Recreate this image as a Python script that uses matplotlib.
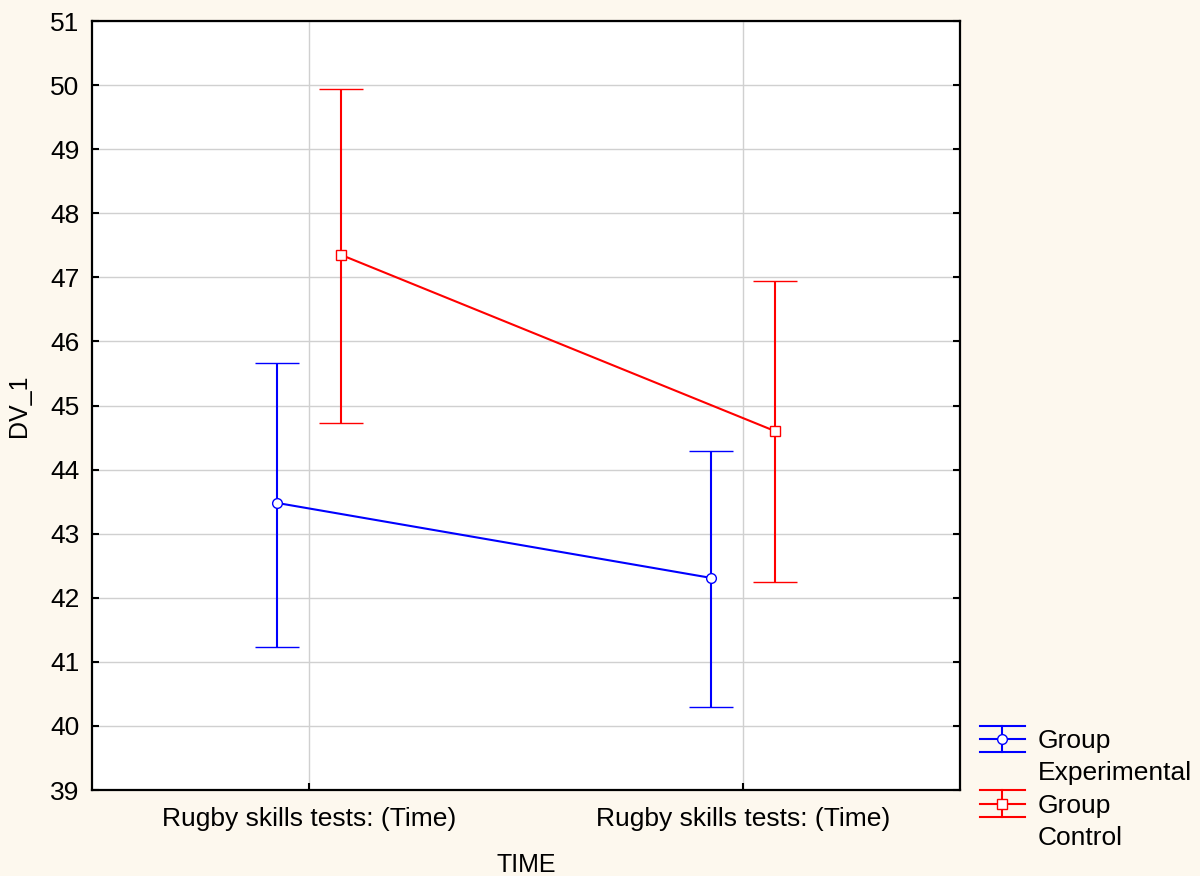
import matplotlib
matplotlib.use("Agg")
import matplotlib.pyplot as plt
import numpy as np
from matplotlib.legend_handler import HandlerBase
from matplotlib.lines import Line2D

plt.rcParams['font.family'] = ['Liberation Sans', 'DejaVu Sans']

categories = ["Rugby skills tests: (Time)", "Rugby skills tests: (Time)"]
exp_mean = [43.48, 42.31]
exp_upper = [45.66, 44.29]
exp_lower = [41.23, 40.30]
ctl_mean = [47.35, 44.60]
ctl_upper = [49.94, 46.94]
ctl_lower = [44.73, 42.25]
series_labels = ["Group", "Experimental", "Group", "Control"]
yticks = list(range(39, 52))

BG = '#FDF8EE'
fig = plt.figure(figsize=(12, 8.76), dpi=100, facecolor=BG)
ax = fig.add_axes([92/1200, 86/876, 868/1200, 769/876])
ax.set_facecolor('white')

x = np.arange(len(categories))
off = 0.074

def draw(xs, mean, lo, hi, color, marker):
    mean = np.array(mean); lo = np.array(lo); hi = np.array(hi)
    ax.errorbar(xs, mean, yerr=[mean - lo, hi - mean], color=color, lw=1.5,
                elinewidth=1.5, capsize=16, capthick=1.5, marker=marker,
                markersize=7, markerfacecolor='white', markeredgecolor=color,
                markeredgewidth=1.0, zorder=3)

draw(x - off, exp_mean, exp_lower, exp_upper, '#0000FF', 'o')
draw(x + off, ctl_mean, ctl_lower, ctl_upper, '#FF0000', 's')

ax.set_xlim(-0.5, 1.5)
ax.set_ylim(39, 51)
ax.set_yticks(yticks)
ax.set_xticks(x)
ax.set_xticklabels(categories)
ax.grid(True, color='#D0D0D0', lw=1.0, zorder=0)
ax.set_axisbelow(True)
for s in ax.spines.values():
    s.set_linewidth(1.6)
ax.tick_params(direction='in', length=5, width=1.5, labelsize=19, right=True,
               top=False, pad=9)
ax.tick_params(axis='x', pad=12)
ax.set_ylabel("DV_1", fontsize=18, labelpad=14)
ax.set_xlabel("TIME", fontsize=18, labelpad=16)

class ErrHandler(HandlerBase):
    def __init__(self, color, marker):
        super().__init__()
        self.color = color
        self.marker = marker
    def create_artists(self, legend, orig_handle, xdescent, ydescent, width,
                       height, fontsize, trans):
        cy = height / 2 - ydescent
        h = 9.5
        arts = []
        for yy in (cy - h, cy, cy + h):
            arts.append(Line2D([0, width], [yy, yy], color=self.color, lw=1.5,
                               transform=trans))
        arts.append(Line2D([width/2, width/2], [cy - h, cy + h], color=self.color,
                           lw=1.5, transform=trans))
        arts.append(Line2D([width/2], [cy], marker=self.marker, markersize=7,
                           markerfacecolor='white', markeredgecolor=self.color,
                           markeredgewidth=1.0, transform=trans))
        return arts

class Blank(HandlerBase):
    def create_artists(self, legend, orig_handle, xdescent, ydescent, width,
                       height, fontsize, trans):
        return [Line2D([], [], transform=trans, visible=False)]

h_exp = Line2D([], [])
h_b1 = Line2D([], [])
h_ctl = Line2D([], [])
h_b2 = Line2D([], [])
leg = fig.legend([h_exp, h_b1, h_ctl, h_b2], series_labels,
                 handler_map={h_exp: ErrHandler('#0000FF', 'o'),
                              h_ctl: ErrHandler('#FF0000', 's'),
                              h_b1: Blank(), h_b2: Blank()},
                 loc='upper left', bbox_to_anchor=(980/1200, 1 - 729/876),
                 frameon=False, fontsize=19, handlelength=1.7,
                 handletextpad=0.5, labelspacing=0.32, borderpad=0,
                 borderaxespad=0)

fig.savefig("out.png", dpi=100, facecolor=BG)
